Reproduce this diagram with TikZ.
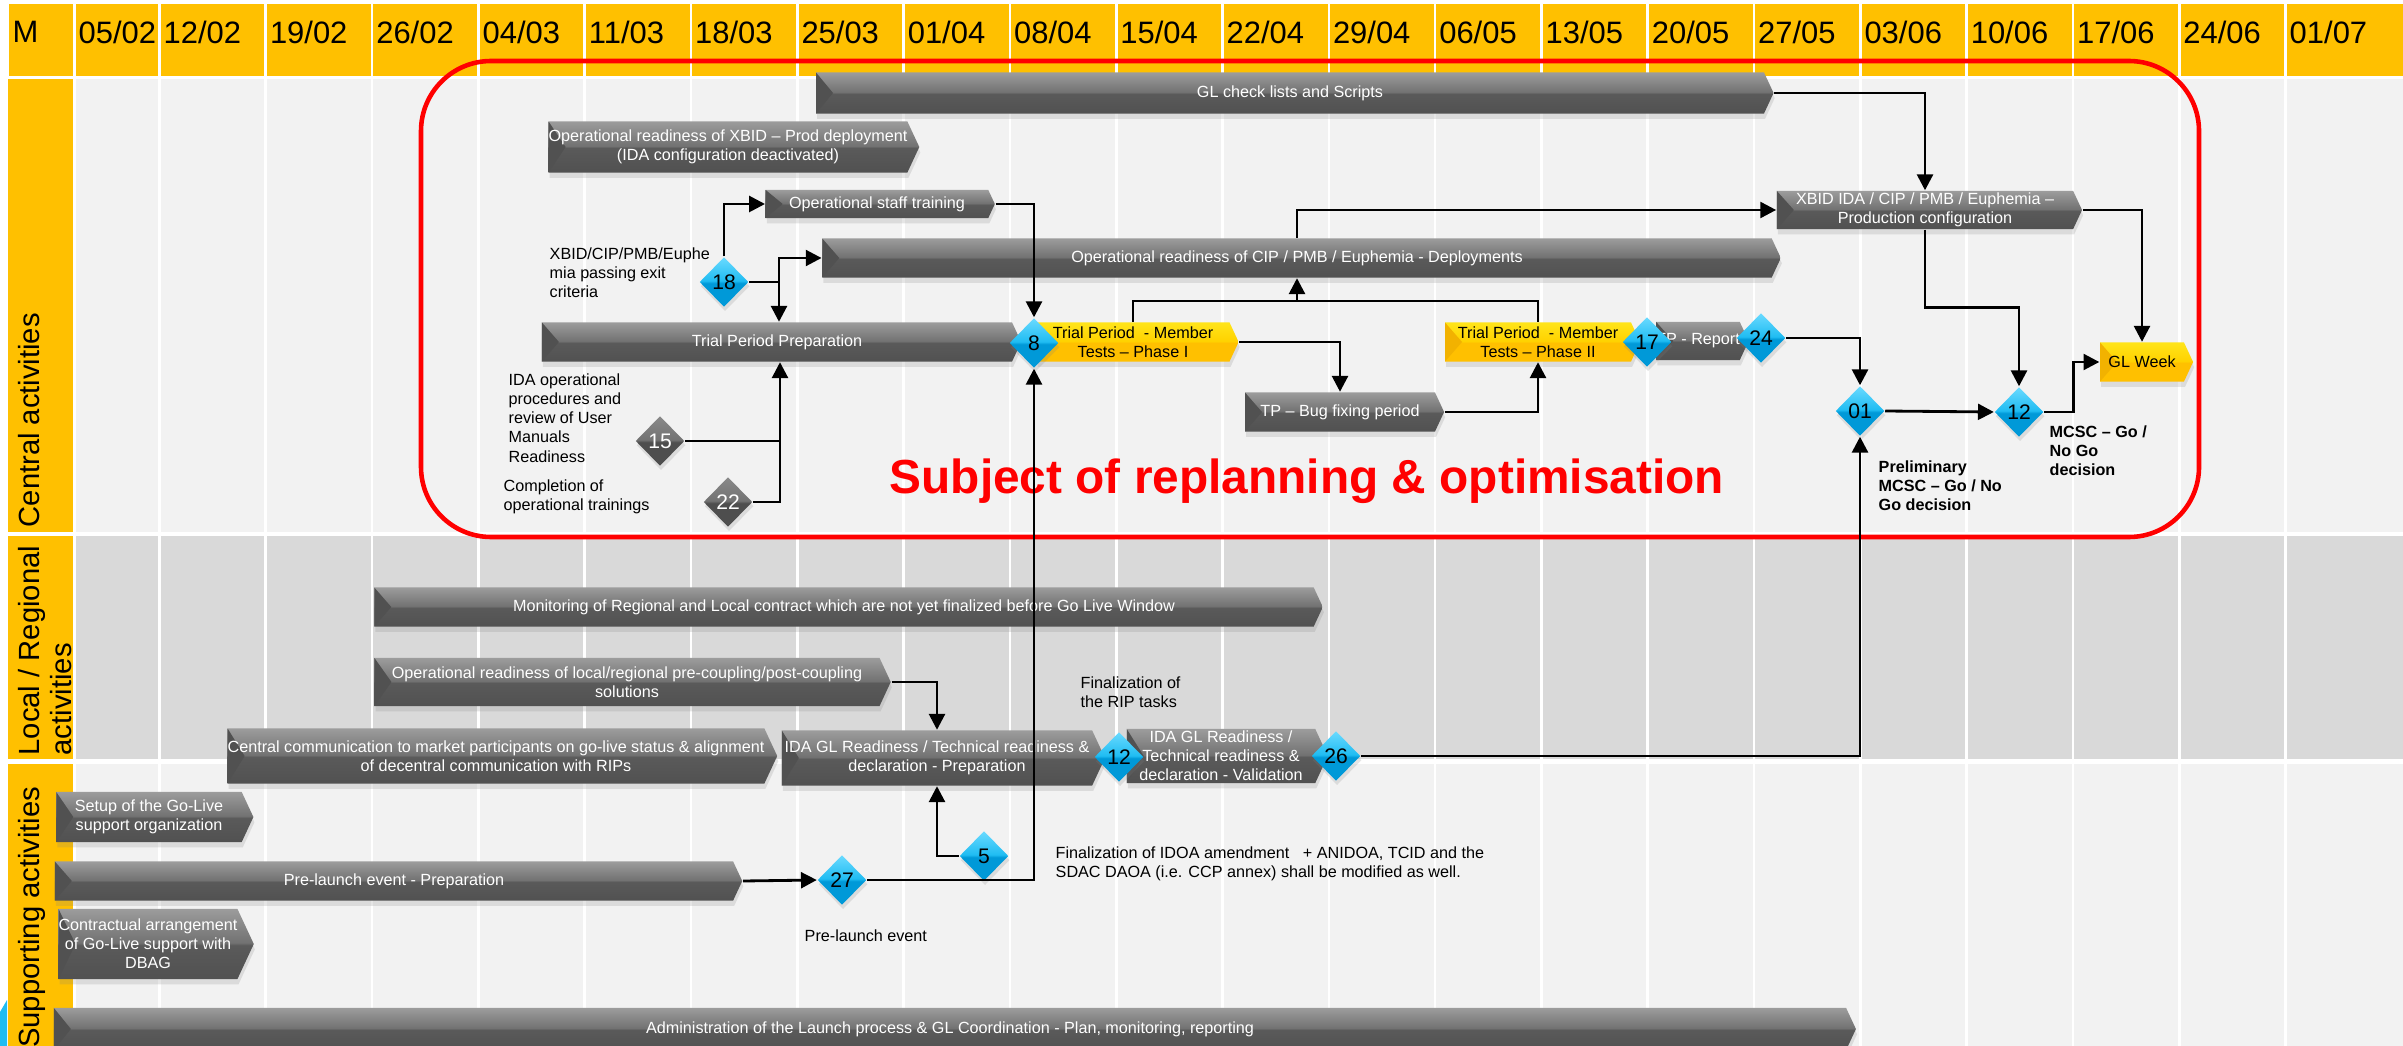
\documentclass[tikz,border=0pt]{standalone}
\usepackage{fontspec}
\setmainfont{Liberation Sans}
\usetikzlibrary{shapes.geometric, shapes.symbols, arrows.meta, shadows}

\definecolor{hdryellow}{HTML}{FFC000}
\definecolor{rowlight}{HTML}{F2F2F2}
\definecolor{rowdark}{HTML}{D9D9D9}
\definecolor{bardeep}{HTML}{515151}
\definecolor{bardark}{HTML}{5A5A5A}
\definecolor{barmid}{HTML}{727272}
\definecolor{barlight}{HTML}{9C9C9C}
\definecolor{yeldeep}{HTML}{F2B200}
\definecolor{yeldark}{HTML}{FFC000}
\definecolor{yelmid}{HTML}{FFD200}
\definecolor{yellight}{HTML}{FFE41A}
\definecolor{cyandark}{HTML}{0099D8}
\definecolor{cyanmid}{HTML}{1FBCF2}
\definecolor{cyanlight}{HTML}{6ADAFF}
\definecolor{stonedark}{HTML}{4E4E4E}
\definecolor{stonelight}{HTML}{8A8A8A}
\definecolor{framered}{HTML}{FF0000}

\pgfdeclareverticalshading{barshade}{100bp}{color(0bp)=(bardeep); color(25bp)=(bardeep); color(49bp)=(bardark); color(51bp)=(barmid); color(75bp)=(barlight); color(100bp)=(barlight)}
\pgfdeclareverticalshading{yelshade}{100bp}{color(0bp)=(yeldark); color(25bp)=(yeldark); color(49bp)=(yeldark); color(51bp)=(yelmid); color(75bp)=(yellight); color(100bp)=(yellight)}
\pgfdeclareverticalshading{cyanshade}{100bp}{color(0bp)=(cyandark); color(25bp)=(cyandark); color(49bp)=(cyandark); color(51bp)=(cyanmid); color(75bp)=(cyanlight); color(100bp)=(cyanlight)}
\pgfdeclareverticalshading{stoneshade}{100bp}{color(0bp)=(stonedark); color(25bp)=(stonedark); color(49bp)=(stonedark); color(51bp)=(barmid); color(75bp)=(stonelight); color(100bp)=(stonelight)}

\newcommand{\barfont}{\fontsize{4.6}{5.45}\selectfont}
\newcommand{\hdrfont}{\fontsize{8.8}{10}\selectfont}
\newcommand{\rowfont}{\fontsize{8.3}{9.1}\selectfont}
\newcommand{\numfont}{\fontsize{6}{7}\selectfont}
\newcommand{\bigfont}{\fontsize{13.6}{15}\selectfont\bfseries}

\tikzset{
  taskbar/.style={shape=signal, signal to=east, signal from=nowhere, signal pointer angle=130,
    shade, shading=barshade, text=white, font=\barfont, align=center, inner sep=0pt,
    drop shadow={opacity=0.2, shadow xshift=0.3pt, shadow yshift=-1.5pt},
    path picture={\fill[bardeep] (path picture bounding box.north west) -- ([xshift=0.17cm]path picture bounding box.west) -- (path picture bounding box.south west) -- cycle;}},
  yeltask/.style={taskbar, shading=yelshade, text=black,
    path picture={\fill[yeldeep] (path picture bounding box.north west) -- ([xshift=0.17cm]path picture bounding box.west) -- (path picture bounding box.south west) -- cycle;}},
  milestone/.style={diamond, aspect=1, inner sep=0pt, minimum width=0.49cm, minimum height=0.5cm,
    shade, shading=cyanshade, font=\numfont,
    drop shadow={opacity=0.2, shadow xshift=0.3pt, shadow yshift=-1.2pt}},
  graystone/.style={milestone, shading=stoneshade, text=white},
  note/.style={anchor=west, align=left, inner sep=0pt, font=\barfont},
  boldnote/.style={note, font=\barfont\bfseries},
  link/.style={draw=black, line width=0.8pt},
  >={Triangle[length=4.5pt, width=4.5pt]},
  gridline/.style={white, line width=0.75pt},
  hdrtext/.style={anchor=west, inner sep=0pt, font=\hdrfont},
  rowlabel/.style={rotate=90, inner sep=0pt, font=\rowfont, align=left},
}

\begin{document}
\begin{tikzpicture}[x=0.01cm, y=-0.01cm]
  \useasboundingbox (0,0) rectangle (2403,1046);
  \fill[white] (0,0) rectangle (2403,1046);

  % Header and row bands
  \fill[hdryellow] (9,4) rectangle (2403,76);
  \fill[hdryellow] (8,79) rectangle (73,532);
  \fill[hdryellow] (8,536) rectangle (73,759);
  \fill[hdryellow] (8,764) rectangle (73,1046);
  \fill[rowlight] (76,79) rectangle (2403,532);
  \fill[rowdark] (76,536) rectangle (2403,759);
  \fill[rowlight] (76,764) rectangle (2403,1046);
  \fill[cyanmid] (0,1012) -- (7,1000) -- (7,1046) -- (0,1046) -- cycle;

  % Week grid
  \draw[gridline] (74.5,4) -- (74.5,1046);
  \foreach \k in {1,...,21}
    \draw[gridline] ({159.5+106.3*(\k-1)},4) -- ++(0,1042);

  % Header labels
  \node[hdrtext] (hdrm) at (12,32) {M};
  \node[hdrtext] (hdr0) at (78,32) {05/02};
  \foreach \dt [count=\i] in {12/02,19/02,26/02,04/03,11/03,18/03,25/03,01/04,08/04,15/04,22/04,29/04,06/05,13/05,20/05,27/05,03/06,10/06,17/06,24/06,01/07}
    \node[hdrtext] (hdr\i) at ({163+106.3*(\i-1)},32) {\dt};

  % Row labels
  \node[rowlabel, anchor=north west] (rowcentral) at (18,528) {Central activities};
  \node[rowlabel, anchor=north west] (rowlocal) at (18,756) {Local / Regional\\activities};
  \node[rowlabel, anchor=north east] (rowsupport) at (18,786) {Supporting activities};

  % Replanning frame
  \draw[framered, line width=1.3pt, rounded corners=0.7cm] (421,61) rectangle (2199,537);

  % Central activities
  \node[taskbar, minimum width=9.57cm, minimum height=0.41cm] (gl) at (1290,93) {GL check lists and Scripts};
  \node[taskbar, minimum width=3.65cm, minimum height=0.51cm] (xbidprod) at (728,147) {Operational readiness of XBID – Prod deployment\\(IDA configuration deactivated)};
  \node[taskbar, minimum width=2.29cm, minimum height=0.28cm] (staff) at (877,204) {Operational staff training};
  \node[taskbar, minimum width=9.58cm, minimum height=0.39cm] (cip) at (1297,258) {Operational readiness of CIP / PMB / Euphemia - Deployments};
  \node[taskbar, minimum width=3.05cm, minimum height=0.38cm] (prodcfg) at (1925,210) {XBID IDA / CIP / PMB / Euphemia –\\Production configuration};
  \node[taskbar, minimum width=4.79cm, minimum height=0.39cm] (prep) at (777,342) {Trial Period Preparation};
  \node[yeltask, minimum width=2.02cm, minimum height=0.39cm] (phaseone) at (1133,342) {Trial Period~ - Member\\Tests – Phase I};
  \node[taskbar, minimum width=1.99cm, minimum height=0.39cm] (bugfix) at (1340,412) {TP – Bug fixing period};
  \node[yeltask, minimum width=1.95cm, minimum height=0.39cm] (phasetwo) at (1538,342) {Trial Period~ - Member\\Tests – Phase II};
  \node[taskbar, minimum width=0.90cm, minimum height=0.38cm] (report) at (1698,341) {TP - Report};
  \node[yeltask, minimum width=0.93cm, minimum height=0.39cm] (glweek) at (2142,362) {GL Week};

  % Local / regional activities
  \node[taskbar, minimum width=9.48cm, minimum height=0.39cm] (monitor) at (844,607) {Monitoring of Regional and Local contract which are not yet finalized before Go Live Window};
  \node[taskbar, minimum width=5.16cm, minimum height=0.48cm] (oplocal) at (627,682) {Operational readiness of local/regional pre-coupling/post-coupling\\solutions};
  \node[taskbar, minimum width=5.46cm, minimum height=0.55cm] (centcomm) at (496,756) {Central communication to market participants on go-live status \& alignment\\of decentral communication with RIPs};
  \node[taskbar, minimum width=3.23cm, minimum height=0.55cm] (idaprep) at (937,758) {IDA GL Readiness / Technical readiness \&\\declaration - Preparation};
  \node[taskbar, minimum width=2.01cm, minimum height=0.54cm] (idaval) at (1221,756) {IDA GL Readiness /\\Technical readiness \&\\declaration - Validation};

  % Supporting activities
  \node[taskbar, minimum width=1.97cm, minimum height=0.50cm] (setup) at (149,817) {Setup of the Go-Live\\support organization};
  \node[taskbar, minimum width=6.87cm, minimum height=0.39cm] (prelaunch) at (394,881) {Pre-launch event - Preparation};
  \node[taskbar, minimum width=1.95cm, minimum height=0.70cm] (contract) at (148,944) {Contractual arrangement\\of Go-Live support with\\DBAG};
  \node[taskbar, minimum width=18.01cm, minimum height=0.42cm] (admin) at (950,1029) {Administration of the Launch process \& GL Coordination - Plan, monitoring, reporting};

  % Milestones
  \node[milestone] (ms18) at (724,282) {18};
  \node[milestone] (ms8) at (1034,343) {8};
  \node[milestone] (ms17) at (1647,342) {17};
  \node[milestone] (ms24) at (1761,338) {24};
  \node[milestone] (ms01) at (1860,411) {01};
  \node[milestone] (ms12) at (2019,412) {12};
  \node[graystone] (ms15) at (660,441) {15};
  \node[graystone] (ms22) at (728,502) {22};
  \node[milestone] (ms12b) at (1119,757) {12};
  \node[milestone] (ms26) at (1336,756) {26};
  \node[milestone] (ms27) at (842,880) {27};
  \node[milestone] (ms5) at (984,856) {5};

  % Notes
  \node[note] (note18) at (549,273) {XBID/CIP/PMB/Euphe\\mia passing exit\\criteria};
  \node[note] (note15) at (508,418) {IDA operational\\procedures and\\review of User\\Manuals\\Readiness};
  \node[note] (note22) at (503,497) {Completion of\\operational trainings};
  \node[boldnote] (noteprelim) at (1878,486) {Preliminary\\MCSC – Go / No\\Go decision};
  \node[boldnote] (notemcsc) at (2049,451) {MCSC – Go /\\No Go\\decision};
  \node[note] (noterip) at (1080,692) {Finalization of\\the RIP tasks};
  \node[note] (noteidoa) at (1055,864) {Finalization of IDOA amendment\ \ \ + ANIDOA, TCID and the\\SDAC DAOA (i.e. CCP annex) shall be modified as well.};
  \node[note] (noteprelaunch) at (804,936) {Pre-launch event};
  \node[anchor=base west, inner sep=0pt, font=\bigfont, text=framered] (subject) at (889,493) {Subject of replanning \& optimisation};

  % Dependencies
  \coordinate (j18) at (779,282);
  \coordinate (j15) at (780,441);
  \coordinate (tpjoin) at (1297,301);
  \draw[link,->] (gl.east) -| (prodcfg.north);
  \draw[link,->] (prodcfg.east) -| (glweek.north);
  \draw[link,->] (prodcfg.south) -- ++(0,78) -| (ms12.north);
  \draw[link,->] (cip.north) |- (prodcfg.west);
  \draw[link,->] (ms18.north) |- (staff.west);
  \draw[link] (ms18.east) -- (j18);
  \draw[link,->] (j18) |- (cip.west);
  \draw[link,->] (j18) -- (j18 |- prep.north);
  \draw[link,->] (staff.east) -| (ms8.north);
  \draw[link] (ms15.east) -- (j15);
  \draw[link,->] (ms22.east) -| (j15 |- prep.south);
  \draw[link,->] (ms27.east) -| (ms8.south);
  \draw[link,->] (phaseone.east) -| (bugfix.north);
  \draw[link,->] (bugfix.east) -| (phasetwo.south);
  \draw[link] (phaseone.north) |- (tpjoin) -| (phasetwo.north);
  \draw[link,->] (tpjoin) -- (cip.south);
  \draw[link,->] (ms24.east) -| (ms01.north);
  \draw[link,->] (ms01.east) -- (ms12.west);
  \draw[link,->] (ms12.east) -- ++(29,0) |- (glweek.west);
  \draw[link,->] (ms26.east) -| (ms01.south);
  \draw[link,->] (oplocal.east) -| (idaprep.north);
  \draw[link,->] (ms5.west) -| (idaprep.south);
  \draw[link,->] (prelaunch.east) -- (ms27.west);
\end{tikzpicture}
\end{document}
